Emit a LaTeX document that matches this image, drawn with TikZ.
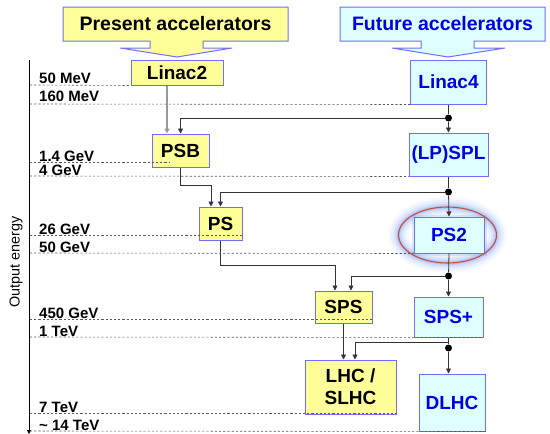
\documentclass[tikz,border=0pt]{standalone}
\usepackage{fontspec}
\setmainfont{Liberation Sans}
\usetikzlibrary{arrows.meta,calc}
\definecolor{byel}{RGB}{255,255,153}
\definecolor{bcyan}{RGB}{221,255,255}
\definecolor{bord}{RGB}{110,110,255}
\definecolor{btext}{RGB}{0,0,225}
\definecolor{ered}{RGB}{205,80,45}
\definecolor{glowc}{RGB}{110,150,255}
\tikzset{
  accbox/.style={draw=bord, line width=1pt, font=\fontsize{19}{21}\selectfont\bfseries, inner sep=0pt, align=center},
  oldbox/.style={accbox, fill=byel, text=black},
  newbox/.style={accbox, fill=bcyan, text=btext},
  wire/.style={draw=black!80, line width=0.8pt},
  conn/.style={wire, -{Triangle[length=5pt,width=5pt]}},
  level/.style={draw=black!65, dash pattern=on 2.2pt off 2pt, line width=0.6pt},
  lvl/.style={font=\fontsize{15}{17}\selectfont\bfseries, anchor=base west, inner sep=0pt},
  jdot/.style={circle, fill=black, inner sep=0pt, minimum size=7pt},
  callout/.style={draw=bord, line width=1pt},
}
\begin{document}
\begin{tikzpicture}[x=1pt,y=-1pt]
\useasboundingbox (0,0) rectangle (550,434);

% header callouts
\path[callout, fill=byel] (63,7) -- (288,7) -- (288,41) -- (203,41) -- (203,48) -- (232,48) -- (177,57) -- (120,48) -- (150,48) -- (150,41) -- (63,41) -- cycle;
\node[font=\fontsize{19.5}{22}\selectfont\bfseries] (hpres) at (175.5,24) {Present accelerators};
\path[callout, fill=bcyan] (340,7) -- (545,7) -- (545,41) -- (474,41) -- (474,48) -- (505,48) -- (448,57) -- (392,48) -- (421,48) -- (421,41) -- (340,41) -- cycle;
\node[font=\fontsize{19.5}{22}\selectfont\bfseries, text=btext] (hfut) at (442.5,24) {Future accelerators};

% axis
\draw[line width=0.8pt, -{Triangle[length=4pt,width=4pt]}] (29,60) -- (29,434);
\node[rotate=90, font=\fontsize{14.4}{16}\selectfont] (axlab) at (16,262) {Output energy};

% glow of PS2
\foreach \w/\o in {20/0.06, 15/0.09, 10/0.13, 6/0.18, 3/0.25}
  \draw[glowc, line width=\w pt, opacity=\o] (447.5,235) ellipse [x radius=49, y radius=28];

% boxes
\node[oldbox, minimum width=92pt, minimum height=25pt] (linac2) at (177,72.5) {Linac2};
\node[oldbox, minimum width=57pt, minimum height=33pt] (psb) at (180.5,150.5) {PSB};
\node[oldbox, minimum width=43pt, minimum height=33pt] (ps) at (220.5,223.5) {PS};
\node[oldbox, minimum width=57pt, minimum height=32pt] (sps) at (343.5,307) {SPS};
\node[oldbox, minimum width=91pt, minimum height=54pt] (lhc) at (350.5,387) {LHC /\\[1pt]SLHC};

\node[newbox, minimum width=76pt, minimum height=44pt] (linac4) at (448.5,82) {Linac4};
\node[newbox, minimum width=79pt, minimum height=43pt] (spl) at (448.5,154.5) {(LP)SPL};
\draw[glowc, line width=5pt, opacity=0.2] (414,217) rectangle (484,253);
\node[newbox, minimum width=70pt, minimum height=36pt] (ps2) at (449,235) {PS2};
\node[newbox, minimum width=69pt, minimum height=40pt] (spsp) at (448.5,317) {SPS+};
\node[newbox, minimum width=66pt, minimum height=57pt] (dlhc) at (452,402.5) {DLHC};

\draw[ered, line width=1.1pt] (447.5,235) ellipse [x radius=49, y radius=28];

% junction dots
\node[jdot] (j1) at (448.5,118) {};
\node[jdot] (j2) at (448.5,192) {};
\node[jdot] (j3) at (448.5,276) {};
\node[jdot] (j4) at (448.5,348) {};
\coordinate (k) at (448.5,342);

% connectors
\draw[conn, draw=black!40, line width=1.5pt] ([xshift=-10pt]linac2.south) -- ([xshift=-10pt]linac2.south |- psb.north);
\draw[wire] (linac4.south) -- (j1);
\draw[conn] (j1) -- (spl.north);
\draw[conn] (j1) -| (psb.north);

\draw[wire] (spl.south) -- (j2);
\draw[conn] (j2) -- (ps2.north);
\draw[conn] (j2) -| (ps.north);
\draw[conn] (psb.south) -- ++(0,18) -| ([xshift=-9.5pt]ps.north);

\draw[wire] (ps2.south) -- (j3);
\draw[conn] (j3) -- (spsp.north);
\draw[conn] (j3) -| ([xshift=7.5pt]sps.north);
\draw[conn] (ps.south) -- ++(0,25) -| ([xshift=-8.5pt]sps.north);

\draw[wire] (spsp.south) -- (j4);
\draw[conn] (j4) -- (j4 |- dlhc.north);
\draw[conn] (k) -| ([xshift=4.5pt]lhc.north);
\draw[conn] (sps.south) -- (sps.south |- lhc.north);

% energy levels
\draw[level] (30,85) -- (linac2.south west);
\node[lvl] (l1) at (39,83) {50 MeV};
\draw[level] (30,104) -- (linac4.south west);
\node[lvl] (l2) at (39,101.5) {160 MeV};
\draw[level] (30,162) -- (170,162);
\node[lvl] (l3) at (39,161) {1.4 GeV};
\draw[level] (30,176) -- (spl.south west);
\node[lvl] (l4) at (39,175.5) {4 GeV};
\draw[level] (30,235) -- (242,235);
\node[lvl] (l5) at (39,234.5) {26 GeV};
\draw[level] (30,253) -- (ps2.south west);
\node[lvl] (l6) at (39,252) {50 GeV};
\draw[level] (30,319) -- (372,319);
\node[lvl] (l7) at (39,318.5) {450 GeV};
\draw[level] (30,337) -- (spsp.south east);
\node[lvl] (l8) at (39,336.5) {1 TeV};
\draw[level] (30,413) -- (396,413);
\node[lvl] (l9) at (39,412.5) {7 TeV};
\draw[level] (30,431) -- (dlhc.south east);
\node[lvl] (l10) at (39,430.5) {\textasciitilde{} 14 TeV};
\end{tikzpicture}
\end{document}
